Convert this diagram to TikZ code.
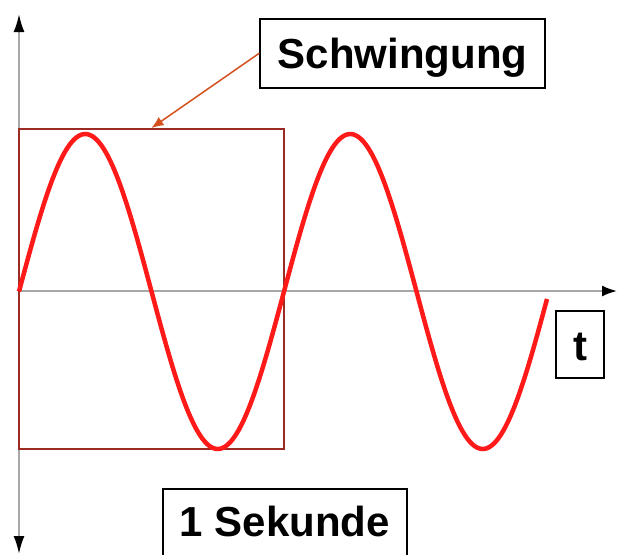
\documentclass[tikz,border=0pt]{standalone}
\usepackage{fontspec}
\setmainfont{Liberation Sans}
\usetikzlibrary{arrows.meta}
\definecolor{axisgray}{HTML}{A8A8A8}
\definecolor{boxred}{HTML}{9C2B23}
\definecolor{curvered}{HTML}{FF1A1A}
\definecolor{callout}{HTML}{D4511E}
\tikzset{
  labelbox/.style={draw=black, line width=1.5pt, inner sep=0pt, font=\fontsize{42}{42}\selectfont\bfseries, anchor=north},
  axisline/.style={draw=axisgray, line width=2pt}
}
\begin{document}
\begin{tikzpicture}[x=1pt,y=-1pt]
\useasboundingbox (0,0) rectangle (617,554);
\fill[white] (0,0) rectangle (617,554);
% axes
\coordinate (ytop) at (19,14);
\coordinate (ybot) at (19,554);
\coordinate (origin) at (19,291);
\coordinate (xend) at (617,291);
\draw[axisline, {Latex[black,length=18pt,width=11pt]}-{Latex[black,length=18pt,width=11pt]}] (ytop) -- (ybot);
\draw[axisline, -{Latex[black,length=15pt,width=11pt]}] (origin) -- (xend);
% one period box
\node[draw=boxred, line width=2pt, minimum width=265pt, minimum height=320pt, inner sep=0pt] (period) at (151.5,289) {};
% sine curve
\draw[curvered, line width=4.5pt] plot[domain=0:528, samples=240, smooth] ({\x+19}, {291.5-157.5*sin((\x/265)*360)});
% labels
\node[labelbox, minimum width=285pt, text height=50pt, text depth=19pt] (schw) at (402.5,18) {Schwingung};
\node[labelbox, minimum width=48pt, text height=50pt, text depth=17pt] (tlab) at (580,310) {t};
\node[labelbox, minimum width=244pt, text height=48pt, text depth=30pt] (sek) at (285,488) {1 Sekunde};
% callout arrow
\draw[callout, line width=1.5pt, -{Latex[length=12pt,width=10pt]}] (schw.west) -- (period.north);
\end{tikzpicture}
\end{document}
